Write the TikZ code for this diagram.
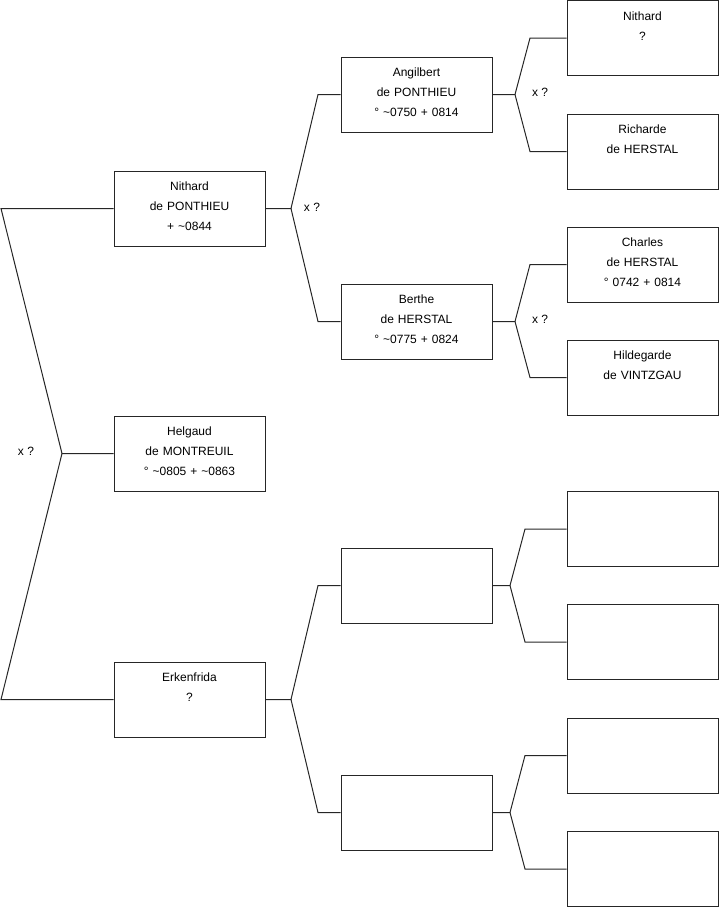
\documentclass[tikz,border=0pt]{standalone}
\usepackage{fontspec}
\setmainfont{Liberation Sans}

\tikzset{
  person/.style={draw=black!85, line width=1pt, rectangle, minimum width=151pt, minimum height=75pt,
    text width=145pt, align=center, inner sep=0pt, font=\fontsize{12pt}{20pt}\selectfont,
    execute at end node={\rule[-4pt]{0pt}{4pt}}},
  link/.style={draw=black!85, line width=1pt},
  union/.style={font=\fontsize{12pt}{14pt}\selectfont, inner sep=0pt}
}

\begin{document}
\begin{tikzpicture}[x=1pt,y=-1pt]
\useasboundingbox (0,0) rectangle (719,908);

% generation 1
\node[person] (nithard) at (189.5,208.5) {Nithard\\de PONTHIEU\\+ \textasciitilde0844};
\node[person] (helgaud) at (189.5,453.5) {Helgaud\\de MONTREUIL\\\textdegree{} \textasciitilde0805 + \textasciitilde0863};
\node[person] (erkenfrida) at (189.5,699.5) {Erkenfrida\\?\\\phantom{0}};

% generation 2
\node[person] (angilbert) at (416.5,94.5) {Angilbert\\de PONTHIEU\\\textdegree{} \textasciitilde0750 + 0814};
\node[person] (berthe) at (416.5,321.5) {Berthe\\de HERSTAL\\\textdegree{} \textasciitilde0775 + 0824};
\node[person] (erkfather) at (416.5,585.5) {};
\node[person] (erkmother) at (416.5,812.5) {};

% generation 3
\node[person] (nithardold) at (642.5,38) {Nithard\\?\\\phantom{0}};
\node[person] (richarde) at (642.5,151.5) {Richarde\\de HERSTAL\\\phantom{0}};
\node[person] (charles) at (642.5,264.5) {Charles\\de HERSTAL\\\textdegree{} 0742 + 0814};
\node[person] (hildegarde) at (642.5,377.5) {Hildegarde\\de VINTZGAU\\\phantom{0}};
\node[person] (unknownA) at (642.5,529) {};
\node[person] (unknownB) at (642.5,642) {};
\node[person] (unknownC) at (642.5,755.5) {};
\node[person] (unknownD) at (642.5,869) {};

% forks
\coordinate (fR) at (62,453.5);  \coordinate (cR) at (1,0);
\coordinate (fN) at (291,208.5); \coordinate (cN) at (318,0);
\coordinate (fE) at (291,699.5); \coordinate (cE) at (318,0);
\coordinate (fA) at (515,94.5);  \coordinate (cA) at (530,0);
\coordinate (fB) at (515,321.5); \coordinate (cB) at (530,0);
\coordinate (fF) at (510,585.5); \coordinate (cF) at (525,0);
\coordinate (fM) at (510,812.5); \coordinate (cM) at (525,0);

\draw[link] (helgaud.west) -- (fR) -- (cR |- nithard.west) -- (nithard.west);
\draw[link] (fR) -- (cR |- erkenfrida.west) -- (erkenfrida.west);

\draw[link] (nithard.east) -- (fN) -- (cN |- angilbert.west) -- (angilbert.west);
\draw[link] (fN) -- (cN |- berthe.west) -- (berthe.west);

\draw[link] (erkenfrida.east) -- (fE) -- (cE |- erkfather.west) -- (erkfather.west);
\draw[link] (fE) -- (cE |- erkmother.west) -- (erkmother.west);

\draw[link] (angilbert.east) -- (fA) -- (cA |- nithardold.west) -- (nithardold.west);
\draw[link] (fA) -- (cA |- richarde.west) -- (richarde.west);

\draw[link] (berthe.east) -- (fB) -- (cB |- charles.west) -- (charles.west);
\draw[link] (fB) -- (cB |- hildegarde.west) -- (hildegarde.west);

\draw[link] (erkfather.east) -- (fF) -- (cF |- unknownA.west) -- (unknownA.west);
\draw[link] (fF) -- (cF |- unknownB.west) -- (unknownB.west);

\draw[link] (erkmother.east) -- (fM) -- (cM |- unknownC.west) -- (unknownC.west);
\draw[link] (fM) -- (cM |- unknownD.west) -- (unknownD.west);

% marriages
\node[union] (xR) at (26,451.5) {x ?};
\node[union] (xN) at (312,207) {x ?};
\node[union] (xA) at (540,92.5) {x ?};
\node[union] (xB) at (540,319.5) {x ?};
\end{tikzpicture}
\end{document}
